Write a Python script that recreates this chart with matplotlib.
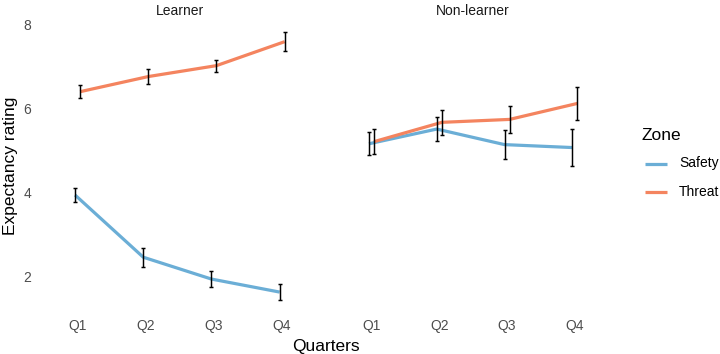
import numpy as np
import matplotlib
matplotlib.use('Agg')
import matplotlib.pyplot as plt

# values
quarters = ['Q1', 'Q2', 'Q3', 'Q4']
groups = ['Learner', 'Non-learner']
zones = ['Safety', 'Threat']

learner_safety = [3.95, 2.47, 1.95, 1.64]
learner_safety_se = [0.16, 0.23, 0.20, 0.19]
learner_threat = [6.41, 6.77, 7.03, 7.60]
learner_threat_se = [0.15, 0.17, 0.14, 0.22]

nonlearner_safety = [5.17, 5.52, 5.15, 5.08]
nonlearner_safety_se = [0.27, 0.29, 0.35, 0.44]
nonlearner_threat = [5.22, 5.68, 5.75, 6.13]
nonlearner_threat_se = [0.29, 0.30, 0.33, 0.40]

colors = {'Safety': '#6BAED6', 'Threat': '#F4845F'}

W, H, DPI = 720, 354, 96
plt.rcParams['font.family'] = ['Liberation Sans', 'DejaVu Sans']
fig = plt.figure(figsize=(W / DPI, H / DPI), dpi=DPI)


def px_axes(x0, x1, y0, y1):
    return fig.add_axes([x0 / W, 1 - y1 / H, (x1 - x0) / W, (y1 - y0) / H])


panels = [
    (px_axes(36.7, 323, 19, 313.5), 'Learner',
     {'Safety': (learner_safety, learner_safety_se),
      'Threat': (learner_threat, learner_threat_se)}),
    (px_axes(330.8, 615.5, 19, 313.5), 'Non-learner',
     {'Safety': (nonlearner_safety, nonlearner_safety_se),
      'Threat': (nonlearner_threat, nonlearner_threat_se)}),
]

x = np.arange(len(quarters))
dodge = {'Safety': -0.037, 'Threat': 0.037}

for i, (ax, title, data) in enumerate(panels):
    for z in zones:
        vals, se = data[z]
        xx = x + dodge[z]
        ax.plot(xx, vals, color=colors[z], lw=2.4, solid_capstyle='butt', zorder=2)
        ax.errorbar(xx, vals, yerr=se, fmt='none', ecolor='black',
                    elinewidth=1.1, capsize=1.6, capthick=1.1, zorder=3)
    ax.set_xlim(-0.6, 3.6)
    ax.set_ylim(1.13, 8.14)
    ax.set_xticks(x)
    ax.set_xticklabels(quarters)
    ax.set_yticks([2, 4, 6, 8])
    ax.tick_params(length=0, labelsize=10.4, labelcolor='#4D4D4D', pad=4)
    for s in ax.spines.values():
        s.set_visible(False)
    ax.set_title(title, fontsize=10.4, color='#1A1A1A', pad=3)
    if i == 1:
        ax.set_yticklabels([])
    else:
        ax.set_ylabel('Expectancy rating', fontsize=13, labelpad=4)

fig.text(326 / W, 1 - 346 / H, 'Quarters', ha='center', va='center', fontsize=13)

# legend
fig.text(642 / W, 1 - 135 / H, 'Zone', ha='left', va='center', fontsize=13)
for k, z in enumerate(zones):
    yk = 163.5 + k * 28
    fig.add_artist(plt.Line2D([645 / W, 667 / W], [1 - yk / H, 1 - yk / H],
                              color=colors[z], lw=2.4, solid_capstyle='butt'))
    fig.text(679 / W, 1 - yk / H, z, ha='left', va='center', fontsize=10.4)

fig.savefig('out.png', dpi=DPI)
